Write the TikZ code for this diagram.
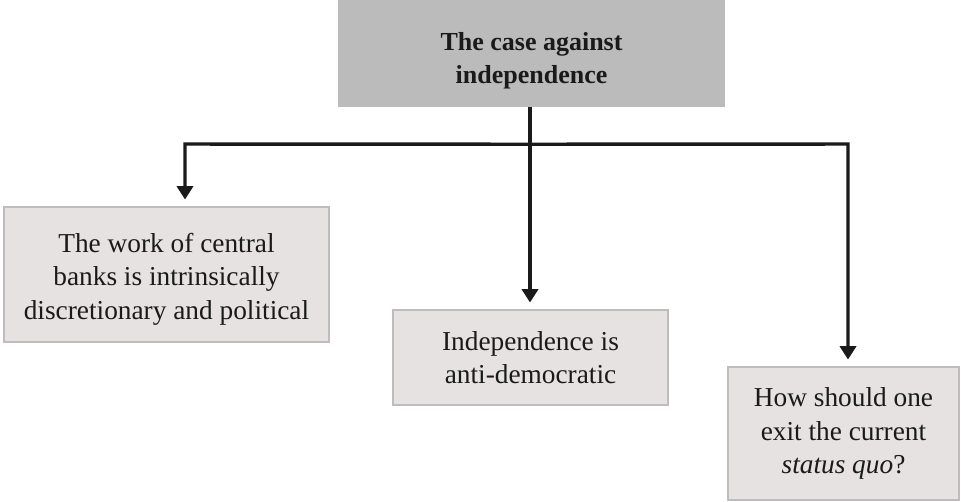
\documentclass[tikz,border=0pt]{standalone}
\usepackage{fontspec}
\setmainfont{Liberation Serif}
\usepackage{tikz}
\usetikzlibrary{arrows.meta,calc}
\usepackage{xcolor}
\definecolor{headgray}{HTML}{BCBBBC}
\definecolor{boxgray}{HTML}{E5E2E1}
\definecolor{rimgray}{HTML}{BEBDBD}
\definecolor{inkgray}{HTML}{1A1A1A}
\tikzset{
  headbox/.style={fill=headgray, text=inkgray, inner sep=0pt, align=center, font=\fontsize{19.5}{24.5}\selectfont\bfseries},
  argbox/.style={fill=boxgray, draw=rimgray, text=inkgray, line width=1.2pt, inner sep=0pt, align=center, font=\fontsize{20.5}{25}\selectfont},
  link/.style={line width=2.6pt, inkgray},
  linkarr/.style={link, -{Triangle[width=12pt,length=10pt]}, shorten >=5pt}
}

\begin{document}
\begin{tikzpicture}[x=0.75pt,y=-0.75pt]
\useasboundingbox (0,0) rectangle (961,502);
\node [headbox, minimum width=387*0.75pt, minimum height=107*0.75pt] (case) at (531.5,53.5) {\rule{0pt}{24pt}The case against\\independence};
\node [argbox, minimum width=325*0.75pt, minimum height=135*0.75pt] (work) at (166.5,274.5) {\rule{0pt}{21.5pt}The work of central\\banks is intrinsically\\discretionary and political};
\node [argbox, minimum width=275*0.75pt, minimum height=95*0.75pt] (demo) at (530.5,357.5) {Independence is\\anti-democratic};
\node [argbox, minimum width=231*0.75pt, minimum height=133*0.75pt] (exit) at (843.5,433.5) {How should one\\exit the current\\\textit{status quo}?};
\coordinate (split) at ($(case.south)+(-1.5,37)$);
\coordinate (lturn) at (185,144);
\coordinate (rturn) at (848,144);
\draw [link] ($(case.south)+(-1.5,0)$) -- (split);
\draw [linkarr] (split) -- (lturn) -- (lturn |- work.north);
\draw [linkarr] (split) -- (rturn) -- (rturn |- exit.north);
\draw [linkarr] (split) -- (split |- demo.north);
\end{tikzpicture}
\end{document}
